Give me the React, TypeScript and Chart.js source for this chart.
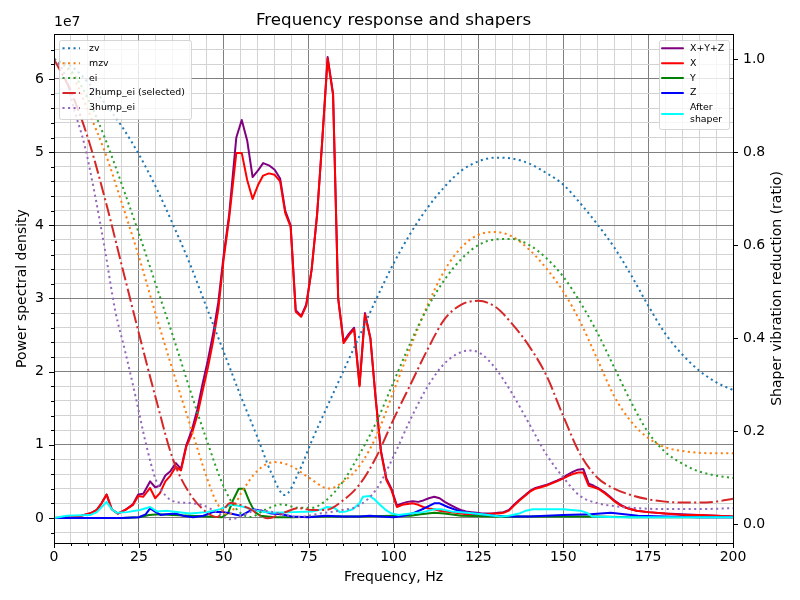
import React, { useEffect, useRef } from "react";
import { Chart, registerables } from "chart.js";

Chart.register(...registerables);

// ---- Power spectral density (units of 1e7) ----
const psdFreqs = [
  0, 4, 8, 11, 12.6, 14, 15.5, 17, 18.8, 21, 23.3, 24.8, 26.3, 28.3, 29.8, 31.2, 32.8, 34.3, 35.9, 37.4,
  39, 40.6, 42.2, 43.7, 45.3, 46.8, 48.4, 50, 51.6, 53.7, 55.3, 56.9, 58.5, 60.1, 61.6, 63.3, 65, 66.6,
  68.1, 69.7, 71.2, 72.8, 74.3, 75.9, 77.5, 79, 80.6, 82.2, 83.7, 85.3, 86.9, 88.4, 90, 91.6, 93.2, 94.7,
  96.3, 97.9, 99.4, 101, 102.6, 104.1, 105.7, 107.3, 108.8, 110.4, 112, 113.6, 115.1, 116.7, 118.3, 119.8,
  121.4, 123, 124.5, 126.1, 127.7, 129.3, 130.8, 132.4, 134, 135.5, 137.1, 138.7, 140.2, 141.8, 143.4,
  144.9, 146.5, 148.1, 149.6, 151.2, 152.8, 154.3, 155.9, 157.5, 159, 160.6, 162.2, 163.8, 165.3, 166.9,
  168.5, 170, 171.6, 175, 180, 185, 190, 195, 200,
];
const psdSum = [
  0, 0.01, 0.03, 0.07, 0.11, 0.2, 0.32, 0.12, 0.06, 0.11, 0.19, 0.32, 0.33, 0.5, 0.42, 0.44, 0.58, 0.64, 0.75, 0.67,
  1.0, 1.2, 1.48, 1.82, 2.15, 2.5, 2.95, 3.6, 4.15, 5.2, 5.44, 5.16, 4.66, 4.75, 4.85, 4.82, 4.76, 4.64,
  4.2, 4.0, 2.84, 2.76, 2.92, 3.4, 4.15, 5.15, 6.3, 5.8, 3.0, 2.41, 2.52, 2.6, 1.82, 2.8, 2.46, 1.66,
  0.92, 0.54, 0.4, 0.17, 0.2, 0.22, 0.23, 0.22, 0.24, 0.27, 0.29, 0.27, 0.22, 0.18, 0.14, 0.11,
  0.09, 0.08, 0.07, 0.06, 0.06, 0.06, 0.07, 0.08, 0.11, 0.18, 0.25, 0.31, 0.37, 0.41, 0.43,
  0.45, 0.48, 0.51, 0.54, 0.59, 0.63, 0.66, 0.67, 0.47, 0.44, 0.4, 0.35, 0.29, 0.23, 0.18,
  0.14, 0.12, 0.1, 0.08, 0.06, 0.05, 0.04, 0.03, 0.02,
];
const psdX = [
  0, 0.01, 0.03, 0.07, 0.11, 0.2, 0.32, 0.12, 0.06, 0.11, 0.18, 0.3, 0.29, 0.41, 0.27, 0.34, 0.5, 0.58, 0.7, 0.65,
  0.98, 1.15, 1.4, 1.72, 2.05, 2.4, 2.85, 3.55, 4.1, 4.99, 4.99, 4.62, 4.36, 4.55, 4.68, 4.71, 4.69, 4.6,
  4.17, 3.98, 2.82, 2.75, 2.9, 3.4, 4.15, 5.15, 6.28, 5.78, 3.0, 2.39, 2.5, 2.58, 1.8, 2.78, 2.45, 1.65,
  0.9, 0.52, 0.38, 0.15, 0.18, 0.19, 0.2, 0.18, 0.15, 0.13, 0.12, 0.1, 0.09, 0.08, 0.07, 0.06,
  0.05, 0.05, 0.05, 0.05, 0.05, 0.06, 0.06, 0.07, 0.1, 0.17, 0.24, 0.3, 0.36, 0.4, 0.42,
  0.44, 0.47, 0.5, 0.53, 0.57, 0.6, 0.62, 0.62, 0.44, 0.42, 0.39, 0.34, 0.28, 0.22, 0.17,
  0.14, 0.12, 0.1, 0.08, 0.06, 0.04, 0.04, 0.03, 0.02,
];

const yFreqs = [0, 20, 25, 28, 31, 35, 40, 45, 49.5, 51.3, 52.8, 54.4, 56, 57.6, 59.2, 60.8, 65, 70, 80, 90, 100, 105, 108, 112, 115, 120, 130, 140, 150, 160, 170, 200];
const psdY = [0, 0, 0.01, 0.04, 0.05, 0.04, 0.03, 0.02, 0.01, 0.07, 0.25, 0.4, 0.4, 0.22, 0.08, 0.03, 0.01, 0.01, 0.02, 0.02, 0.03, 0.03, 0.05, 0.07, 0.06, 0.03, 0.02, 0.02, 0.02, 0.02, 0.01, 0.01];

const zFreqs = [0, 10, 20, 25, 27, 28.3, 30, 31.5, 33, 36, 38, 41, 44, 46.8, 50, 52, 55, 58.6, 61, 64, 67, 70, 75, 80, 85, 90, 93, 96, 100, 103, 106, 109, 112, 113.6, 116, 119, 122, 126, 130, 135, 140, 150, 158, 164, 168, 172, 180, 190, 200];
const psdZ = [0, 0, 0, 0.01, 0.05, 0.13, 0.08, 0.04, 0.05, 0.06, 0.03, 0.01, 0.03, 0.08, 0.08, 0.06, 0.03, 0.12, 0.1, 0.06, 0.05, 0.02, 0.01, 0.03, 0.02, 0.02, 0.03, 0.02, 0.01, 0.03, 0.07, 0.13, 0.2, 0.2, 0.15, 0.1, 0.07, 0.05, 0.03, 0.02, 0.02, 0.04, 0.05, 0.07, 0.05, 0.03, 0.02, 0.01, 0.01];

const shapedFreqs = [0, 3.8, 10.6, 12.6, 15.5, 17, 18.5, 21.5, 25.3, 28.3, 30.3, 33, 35, 40, 45, 49, 51.8, 54, 56, 58.6, 61, 64.6, 70.4, 76.3, 79, 80.4, 82.5, 84.2, 86, 88, 90, 91, 93, 94.5, 96, 98, 99.5, 101.4, 105, 108.7, 112, 114, 117, 121.6, 126, 131.4, 134, 137, 139, 141, 146, 150, 155, 157, 158.5, 166, 200];
const psdShaped = [0, 0.03, 0.04, 0.08, 0.22, 0.12, 0.07, 0.08, 0.11, 0.15, 0.09, 0.1, 0.09, 0.06, 0.08, 0.12, 0.18, 0.17, 0.15, 0.11, 0.09, 0.07, 0.08, 0.09, 0.12, 0.15, 0.14, 0.08, 0.09, 0.12, 0.2, 0.29, 0.3, 0.25, 0.18, 0.1, 0.06, 0.04, 0.06, 0.08, 0.12, 0.12, 0.09, 0.07, 0.05, 0.02, 0.03, 0.06, 0.1, 0.12, 0.12, 0.12, 0.1, 0.07, 0.02, 0.01, 0.01];

// ---- Shaper vibration reduction ratios ----
const zvFreqs = [0, 5, 10, 15, 20, 25, 30, 35, 40, 45, 50, 55, 60, 64, 68, 72, 76, 80, 85, 90, 95, 100, 105, 110, 115, 120, 125, 130, 135, 140, 145, 150, 155, 160, 165, 170, 175, 180, 185, 190, 195, 200];
const zvVals = [1.0, 0.985, 0.95, 0.905, 0.855, 0.795, 0.725, 0.645, 0.56, 0.465, 0.37, 0.275, 0.185, 0.11, 0.062, 0.11, 0.18, 0.245, 0.325, 0.405, 0.485, 0.56, 0.625, 0.68, 0.725, 0.76, 0.78, 0.788, 0.786, 0.775, 0.755, 0.73, 0.69, 0.645, 0.595, 0.535, 0.47, 0.41, 0.365, 0.33, 0.305, 0.288];

const mzvFreqs = [0, 5, 10, 15, 20, 25, 30, 35, 40, 45, 48, 51.5, 55, 60, 65, 70, 75, 81, 85, 90, 95, 100, 105, 110, 115, 120, 125, 130, 135, 140, 145, 150, 155, 160, 165, 170, 175, 180, 185, 190, 195, 200];
const mzvVals = [1.0, 0.97, 0.89, 0.8, 0.69, 0.575, 0.45, 0.33, 0.215, 0.1, 0.045, 0.02, 0.065, 0.115, 0.133, 0.124, 0.1, 0.076, 0.09, 0.125, 0.19, 0.285, 0.38, 0.47, 0.545, 0.595, 0.622, 0.628, 0.618, 0.59, 0.55, 0.5, 0.435, 0.355, 0.275, 0.22, 0.185, 0.165, 0.157, 0.153, 0.152, 0.152];

const eiFreqs = [0, 5, 10, 15, 20, 25, 30, 35, 40, 45, 50, 54, 58, 62, 67, 72, 76, 80, 85, 90, 95, 100, 105, 110, 115, 120, 125, 130, 135, 140, 145, 150, 155, 160, 165, 170, 175, 180, 185, 190, 195, 200];
const eiVals = [1.0, 0.975, 0.915, 0.83, 0.73, 0.625, 0.515, 0.405, 0.29, 0.18, 0.08, 0.03, 0.015, 0.03, 0.042, 0.035, 0.035, 0.05, 0.09, 0.15, 0.22, 0.305, 0.39, 0.465, 0.525, 0.57, 0.6, 0.612, 0.613, 0.6, 0.572, 0.532, 0.477, 0.412, 0.337, 0.262, 0.197, 0.155, 0.13, 0.113, 0.104, 0.099];

const hump2Freqs = [0, 5, 10, 15, 20, 25, 30, 35, 40, 45, 48, 52, 57, 63, 68, 72, 76, 80, 85, 90, 95, 100, 105, 110, 115, 120, 125, 130, 135, 140, 145, 150, 155, 160, 165, 170, 175, 180, 185, 190, 195, 200];
const hump2Vals = [1.0, 0.93, 0.83, 0.7, 0.555, 0.41, 0.27, 0.14, 0.065, 0.025, 0.015, 0.045, 0.035, 0.012, 0.025, 0.034, 0.03, 0.03, 0.05, 0.085, 0.145, 0.225, 0.3, 0.375, 0.44, 0.472, 0.48, 0.467, 0.43, 0.382, 0.32, 0.232, 0.15, 0.1, 0.076, 0.062, 0.053, 0.048, 0.046, 0.046, 0.048, 0.054];

const hump3Freqs = [0, 3, 6, 9, 12, 15, 18, 21, 24, 27, 30, 33, 36, 40, 44, 48, 52, 56, 60, 65, 72, 78, 85, 90, 95, 100, 105, 110, 115, 120, 123, 126, 130, 135, 140, 145, 150, 155, 160, 170, 180, 190, 200];
const hump3Vals = [1.0, 0.97, 0.89, 0.815, 0.71, 0.59, 0.46, 0.37, 0.275, 0.175, 0.095, 0.06, 0.047, 0.045, 0.04, 0.025, 0.01, 0.02, 0.03, 0.025, 0.015, 0.022, 0.03, 0.04, 0.075, 0.145, 0.225, 0.295, 0.345, 0.37, 0.373, 0.365, 0.335, 0.28, 0.215, 0.15, 0.1, 0.06, 0.045, 0.035, 0.032, 0.032, 0.034];

// ---- Axis ticks ----
const xTicks = Array.from({ length: 41 }, (_, i) => i * 5);
const psdTicks = Array.from({ length: 34 }, (_, i) => Math.round((i - 1) * 2) / 10);
const ratioTicks = [0, 0.2, 0.4, 0.6, 0.8, 1.0];

const FONT = '"DejaVu Sans", sans-serif';
const MAJOR_GRID = "#808080";
const MINOR_GRID = "#d3d3d3";
const DOT = [2.1, 3.4];
const DASHDOT = [13.3, 3.3, 2.1, 3.3];

const pts = (xs: number[], ys: number[]) => xs.map((x, i) => ({ x, y: ys[i] }));
const isWhole = (v: number) => Math.abs(v - Math.round(v)) < 1e-6;

type LegendItem = { label: string[]; color: string; dash: number[] };

const shaperLegend: LegendItem[] = [
  { label: ["zv"], color: "#1f77b4", dash: DOT },
  { label: ["mzv"], color: "#ff7f0e", dash: DOT },
  { label: ["ei"], color: "#2ca02c", dash: DOT },
  { label: ["2hump_ei (selected)"], color: "#d62728", dash: DASHDOT },
  { label: ["3hump_ei"], color: "#9467bd", dash: DOT },
];
const psdLegend: LegendItem[] = [
  { label: ["X+Y+Z"], color: "#800080", dash: [] },
  { label: ["X"], color: "#ff0000", dash: [] },
  { label: ["Y"], color: "#008000", dash: [] },
  { label: ["Z"], color: "#0000ff", dash: [] },
  { label: ["After", "shaper"], color: "#00ffff", dash: [] },
];

function drawLegend(
  ctx: CanvasRenderingContext2D,
  items: LegendItem[],
  bx: number,
  by: number,
  bw: number,
  bh: number,
  lineX0: number,
  lineX1: number,
  textX: number
) {
  ctx.save();
  ctx.beginPath();
  ctx.roundRect(bx + 0.5, by + 0.5, bw, bh, 2);
  ctx.fillStyle = "rgba(255,255,255,0.8)";
  ctx.fill();
  ctx.strokeStyle = "rgba(204,204,204,0.8)";
  ctx.lineWidth = 1;
  ctx.stroke();
  ctx.font = `9.4px ${FONT}`;
  ctx.textBaseline = "middle";
  ctx.textAlign = "left";
  let y = by + 8.3;
  const rowH = 14.9;
  for (const it of items) {
    const n = it.label.length;
    const cy = y + ((n - 1) * 12) / 2;
    ctx.beginPath();
    ctx.setLineDash(it.dash);
    ctx.lineCap = it.dash.length ? "butt" : "round";
    ctx.strokeStyle = it.color;
    ctx.lineWidth = 2;
    ctx.moveTo(lineX0, cy);
    ctx.lineTo(lineX1, cy);
    ctx.stroke();
    ctx.setLineDash([]);
    ctx.fillStyle = "#000";
    it.label.forEach((t, k) => ctx.fillText(t, textX, y + k * 12));
    y += rowH + (n - 1) * 12;
  }
  ctx.restore();
}

const decorations = {
  id: "decorations",
  afterDraw(chart: any) {
    const { ctx, chartArea: a, scales } = chart;
    const sx = scales.x;
    const sy = scales.y;
    const sr = scales.y2;
    ctx.save();
    ctx.strokeStyle = "#000";
    ctx.lineWidth = 1;

    // tick marks
    ctx.beginPath();
    for (const v of xTicks) {
      const px = Math.round(sx.getPixelForValue(v)) + 0.5;
      const len = v % 25 === 0 ? 5 : 3;
      ctx.moveTo(px, a.bottom);
      ctx.lineTo(px, a.bottom + len);
    }
    for (const v of psdTicks) {
      if (v < sy.min || v > sy.max) continue;
      const py = Math.round(sy.getPixelForValue(v)) + 0.5;
      const len = isWhole(v) ? 5 : 3;
      ctx.moveTo(a.left, py);
      ctx.lineTo(a.left - len, py);
    }
    for (const v of ratioTicks) {
      const py = Math.round(sr.getPixelForValue(v)) + 0.5;
      ctx.moveTo(a.right, py);
      ctx.lineTo(a.right + 5, py);
    }
    ctx.stroke();

    // frame
    ctx.strokeRect(a.left + 0.5, a.top + 0.5, a.right - a.left, a.bottom - a.top);

    // texts
    ctx.fillStyle = "#000";
    ctx.textAlign = "center";
    ctx.textBaseline = "middle";
    ctx.font = `16.7px ${FONT}`;
    ctx.fillText("Frequency response and shapers", (a.left + a.right) / 2, 21);
    ctx.font = `14px ${FONT}`;
    ctx.fillText("Frequency, Hz", (a.left + a.right) / 2, 577);

    ctx.save();
    ctx.translate(22, (a.top + a.bottom) / 2);
    ctx.rotate(-Math.PI / 2);
    ctx.fillText("Power spectral density", 0, 0);
    ctx.restore();

    ctx.save();
    ctx.translate(777, (a.top + a.bottom) / 2);
    ctx.rotate(-Math.PI / 2);
    ctx.fillText("Shaper vibration reduction (ratio)", 0, 0);
    ctx.restore();

    ctx.textAlign = "left";
    ctx.textBaseline = "alphabetic";
    ctx.fillText("1e7", a.left, 26);

    drawLegend(ctx, shaperLegend, 59, 40, 132, 79, 62.5, 80, 89);
    drawLegend(ctx, psdLegend, 659, 40, 70, 89, 662, 683, 690);
    ctx.restore();
  },
};

export default function App() {
  const ref = useRef<HTMLCanvasElement | null>(null);

  useEffect(() => {
    document.body.style.margin = "0";
    const canvas = ref.current;
    if (!canvas) return;
    Chart.defaults.font.family = FONT;
    Chart.defaults.font.size = 14;
    Chart.defaults.color = "#000";

    const psdLine = (label: string, color: string, xs: number[], ys: number[], order: number) => ({
      label,
      data: pts(xs, ys),
      borderColor: color,
      backgroundColor: color,
      borderWidth: 2,
      pointRadius: 0,
      tension: 0,
      fill: false,
      borderJoinStyle: "round" as const,
      borderCapStyle: "round" as const,
      yAxisID: "y",
      order,
    });
    const shaperLine = (label: string, color: string, xs: number[], ys: number[], dash: number[], order: number) => ({
      label,
      data: pts(xs, ys),
      borderColor: color,
      backgroundColor: color,
      borderWidth: 2,
      borderDash: dash,
      borderCapStyle: "butt" as const,
      pointRadius: 0,
      cubicInterpolationMode: "monotone" as const,
      fill: false,
      yAxisID: "y2",
      order,
    });

    const chart = new Chart(canvas, {
      type: "line",
      data: {
        datasets: [
          psdLine("X+Y+Z", "#800080", psdFreqs, psdSum, 10),
          psdLine("X", "#ff0000", psdFreqs, psdX, 9),
          psdLine("Y", "#008000", yFreqs, psdY, 8),
          psdLine("Z", "#0000ff", zFreqs, psdZ, 7),
          shaperLine("zv", "#1f77b4", zvFreqs, zvVals, DOT, 6),
          shaperLine("mzv", "#ff7f0e", mzvFreqs, mzvVals, DOT, 5),
          shaperLine("ei", "#2ca02c", eiFreqs, eiVals, DOT, 4),
          shaperLine("2hump_ei (selected)", "#d62728", hump2Freqs, hump2Vals, DASHDOT, 3),
          shaperLine("3hump_ei", "#9467bd", hump3Freqs, hump3Vals, DOT, 2),
          psdLine("After\nshaper", "#00ffff", shapedFreqs, psdShaped, 6.5),
        ],
      },
      options: {
        responsive: false,
        devicePixelRatio: 1,
        animation: false,
        events: [],
        layout: { padding: { top: 34, left: 0, right: 0, bottom: 0 } },
        plugins: { legend: { display: false }, title: { display: false }, tooltip: { enabled: false } },
        scales: {
          x: {
            type: "linear",
            min: 0,
            max: 200,
            afterBuildTicks: (s: any) => {
              s.ticks = xTicks.map((value) => ({ value }));
            },
            afterFit: (s: any) => {
              s.height = 57;
            },
            ticks: {
              autoSkip: false,
              maxRotation: 0,
              padding: 6,
              callback: (v: any) => (Number(v) % 25 === 0 ? String(v) : ""),
            },
            grid: {
              drawTicks: false,
              color: (c: any) => (c.tick && c.tick.value % 25 === 0 ? MAJOR_GRID : MINOR_GRID),
              lineWidth: 1,
            },
            border: { display: false },
          },
          y: {
            type: "linear",
            position: "left",
            min: -0.342,
            max: 6.615,
            afterBuildTicks: (s: any) => {
              s.ticks = psdTicks.filter((v) => v >= s.min && v <= s.max).map((value) => ({ value }));
            },
            afterFit: (s: any) => {
              s.width = 54;
            },
            ticks: {
              autoSkip: false,
              padding: 10,
              callback: (v: any) => (isWhole(Number(v)) ? String(Math.round(Number(v))) : ""),
            },
            grid: {
              drawTicks: false,
              color: (c: any) => (c.tick && isWhole(c.tick.value) ? MAJOR_GRID : MINOR_GRID),
              lineWidth: 1,
            },
            border: { display: false },
          },
          y2: {
            type: "linear",
            position: "right",
            min: -0.041,
            max: 1.054,
            afterBuildTicks: (s: any) => {
              s.ticks = ratioTicks.map((value) => ({ value }));
            },
            afterFit: (s: any) => {
              s.width = 67;
            },
            ticks: {
              autoSkip: false,
              padding: 10,
              callback: (v: any) => Number(v).toFixed(1),
            },
            grid: { display: false, drawTicks: false },
            border: { display: false },
          },
        },
      },
      plugins: [decorations],
    });

    return () => chart.destroy();
  }, []);

  return (
    <div style={{ position: "absolute", left: 0, top: 0, width: 800, height: 600, background: "#fff" }}>
      <canvas ref={ref} width={800} height={600} />
    </div>
  );
}
